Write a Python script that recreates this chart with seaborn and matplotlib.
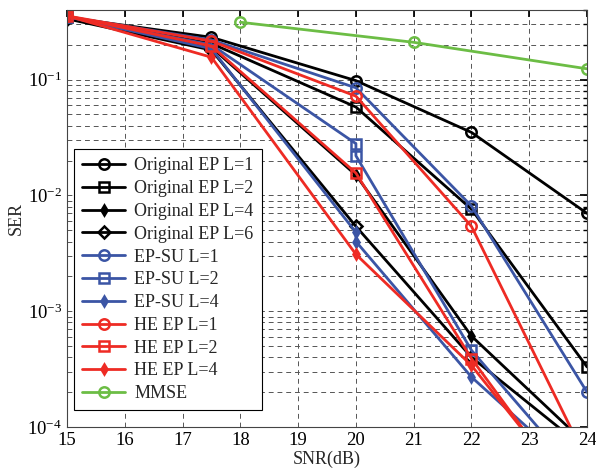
import matplotlib
matplotlib.use("Agg")
import matplotlib.pyplot as plt
import matplotlib.ticker as mticker
import seaborn as sns
import pandas as pd

# ---- data ----
snr_main = [15, 17.5, 20, 22, 24]
snr_dup = [15, 17.5, 20, 20, 22, 24]
snr_mmse = [18, 21, 24]

orig_L1 = [0.345, 0.232, 0.098, 0.035, 0.0070]
orig_L2 = [0.345, 0.205, 0.058, 0.0076, 0.00033]
orig_L4 = [0.340, 0.190, 0.0150, 0.00061, 0.000070]
orig_L6 = [0.335, 0.180, 0.0054, 0.00040, 0.000063]
epsu_L1 = [0.350, 0.220, 0.085, 0.0081, 0.00020]
epsu_L2 = [0.350, 0.200, 0.028, 0.022, 0.00046, 0.000032]
epsu_L4 = [0.350, 0.185, 0.0048, 0.0040, 0.00027, 0.000034]
he_L1 = [0.355, 0.215, 0.072, 0.0054, 0.000051]
he_L2 = [0.355, 0.195, 0.0156, 0.00039, 0.000017]
he_L4 = [0.355, 0.156, 0.0031, 0.00034, 0.000019]
mmse = [0.313, 0.210, 0.124]

BLACK = "#000000"
BLUE = "#3b55a5"
RED = "#ee2b24"
GREEN = "#6cbd45"

series = [
    ("Original EP L=1", snr_main, orig_L1, BLACK, "o"),
    ("Original EP L=2", snr_main, orig_L2, BLACK, "s"),
    ("Original EP L=4", snr_main, orig_L4, BLACK, "d"),
    ("Original EP L=6", snr_main, orig_L6, BLACK, "D"),
    ("EP-SU L=1", snr_main, epsu_L1, BLUE, "o"),
    ("EP-SU L=2", snr_dup, epsu_L2, BLUE, "s"),
    ("EP-SU L=4", snr_dup, epsu_L4, BLUE, "d"),
    ("HE EP L=1", snr_main, he_L1, RED, "o"),
    ("HE EP L=2", snr_main, he_L2, RED, "s"),
    ("HE EP L=4", snr_main, he_L4, RED, "d"),
    ("MMSE", snr_mmse, mmse, GREEN, "o"),
]

sns.set_theme(style="white")
plt.rcParams["font.family"] = ["Liberation Serif", "DejaVu Serif"]
plt.rcParams["mathtext.fontset"] = "stix"

fig = plt.figure(figsize=(5.96, 4.72), dpi=100)
ax = fig.add_axes([0.1124, 0.0953, 0.8726, 0.8837])

for label, xs, ys, color, mk in series:
    df = pd.DataFrame({"SNR": xs, "SER": ys})
    filled = mk == "d"
    ms = 5 if mk == "d" else (6 if mk == "D" else 7.5)
    sns.lineplot(
        data=df, x="SNR", y="SER", ax=ax, estimator=None, sort=False,
        color=color, linewidth=2.0, marker=mk, markersize=ms,
        markerfacecolor=color if filled else "none",
        markeredgecolor=color, markeredgewidth=1.8, label=label,
    )

ax.set_yscale("log")
ax.set_xlim(15, 24)
ax.set_ylim(1e-4, 0.4)
ax.set_xticks(range(15, 25))
ax.yaxis.set_major_locator(mticker.LogLocator(base=10, numticks=10))
ax.yaxis.set_minor_locator(mticker.LogLocator(base=10, subs=range(2, 10), numticks=20))
ax.yaxis.set_minor_formatter(mticker.NullFormatter())

ax.grid(True, which="major", linestyle=(0, (5, 4)), color="#555555", linewidth=0.7)
ax.grid(True, which="minor", axis="y", linestyle=(0, (5, 4)), color="#555555", linewidth=0.7)
ax.set_axisbelow(True)

ax.tick_params(axis="both", which="both", direction="in", top=True, right=True,
               labelsize=13.5, colors="black")
ax.tick_params(which="major", length=5)
ax.tick_params(which="minor", length=3)
for sp in ax.spines.values():
    sp.set_color("#444444")
    sp.set_linewidth(0.8)

ax.set_xlabel("SNR(dB)", fontsize=13, labelpad=1)
ax.set_ylabel("SER", fontsize=13, labelpad=2)

leg = ax.legend(loc="lower left", bbox_to_anchor=(0.013, 0.04), fontsize=13,
                frameon=True, fancybox=False, handlelength=2.4, labelspacing=0.32,
                borderpad=0.45, handletextpad=0.5, borderaxespad=0)
leg.get_frame().set_edgecolor("black")
leg.get_frame().set_linewidth(0.8)
leg.get_frame().set_alpha(1)

fig.savefig("out.png", dpi=100)
